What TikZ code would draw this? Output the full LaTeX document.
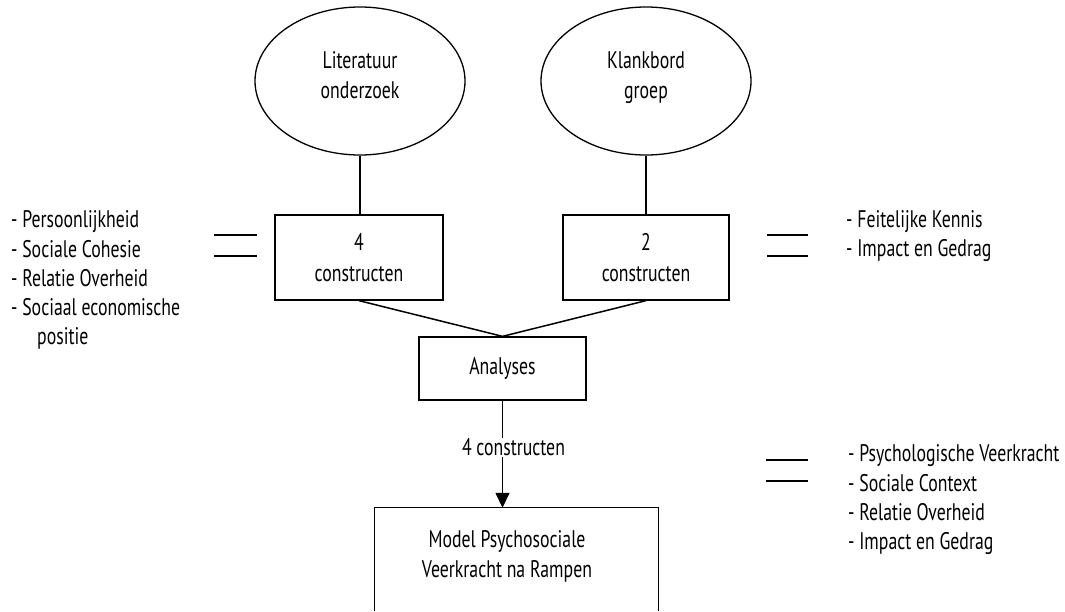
\documentclass[tikz,border=0pt]{standalone}
\usepackage{fontspec}
\setmainfont{PT Sans}[FakeStretch=0.74]
\usetikzlibrary{arrows.meta,shapes.geometric}
\begin{document}
\begin{tikzpicture}[x=1pt,y=-1pt,
  every node/.style={font=\fontsize{24}{31}\selectfont},
  oval/.style={draw,line width=1.3pt,ellipse,minimum width=210pt,minimum height=148pt,inner sep=0pt},
  ovaltxt/.style={align=center,anchor=north,inner sep=0pt,font=\fontsize{24}{30}\selectfont},
  box/.style={draw,line width=1.3pt,rectangle,inner sep=0pt,align=center},
  conn/.style={line width=1.5pt},
  eqline/.style={line width=1.5pt},
  listtxt/.style={align=left,anchor=north west,inner sep=0pt,font=\fontsize{24}{29.3}\selectfont}]
\useasboundingbox (0,0) rectangle (1065,611);
% ovals
\node[oval] (lit) at (360,81) {};
\node[ovaltxt] (littxt) at (360,51) {Literatuur\\onderzoek};
\node[oval] (kla) at (646,81) {};
\node[ovaltxt] (klatxt) at (646,51) {Klankbord\\groep};
% boxes
\node[box,minimum width=168pt,minimum height=85pt] (c4) at (359,257.5) {4\\constructen};
\node[box,minimum width=166pt,minimum height=85pt] (c2) at (646,257.5) {2\\constructen};
\node[box,minimum width=167pt,minimum height=63pt] (ana) at (502.5,368.5) {Analyses};
\node[minimum width=283pt,minimum height=103pt,inner sep=0pt] (model) at (516.5,559.5) {};
\draw[line width=1.3pt] (model.south west) -- (model.north west) -- (model.north east) -- (model.south east);
\node[align=center,inner sep=0pt,font=\fontsize{24}{30}\selectfont] (modeltxt) at (507,556) {Model Psychosociale\\Veerkracht na Rampen};
% connectors
\draw[conn] (lit.south) -- (lit.south |- c4.north);
\draw[conn] (kla.south) -- (kla.south |- c2.north);
\draw[conn] (c4.south) -- (ana.north);
\draw[conn] (c2.south) -- (ana.north);
\draw[conn,-{Triangle[width=14pt,length=15pt]}] (ana.south) -- (ana.south |- model.north)
  node[pos=0.435,fill=white,inner sep=1pt,xshift=11pt] (lbl) {4 constructen};
% equal signs
\draw[eqline] (214,235) -- (257,235) (214,256) -- (257,256);
\draw[eqline] (767,235) -- (808,235) (767,256) -- (808,256);
\draw[eqline] (766,460) -- (808,460) (766,481) -- (808,481);
% lists
\node[listtxt] (l1) at (11,210.5) {- Persoonlijkheid\\- Sociale Cohesie\\- Relatie Overheid\\- Sociaal economische\\\hspace*{26pt}positie};
\node[listtxt] (r1) at (846,210.5) {- Feitelijke Kennis\\- Impact en Gedrag};
\node[listtxt] (r2) at (848,444.5) {- Psychologische Veerkracht\\- Sociale Context\\- Relatie Overheid\\- Impact en Gedrag};
\end{tikzpicture}
\end{document}
